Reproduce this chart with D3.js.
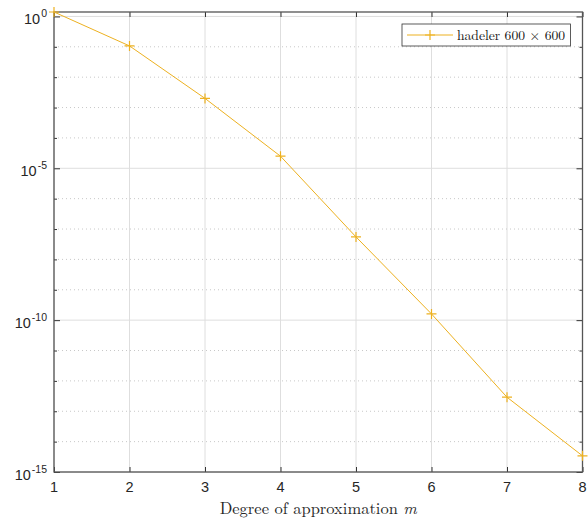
<!DOCTYPE html>
<html><head><meta charset="utf-8">
<script src="https://cdn.jsdelivr.net/npm/d3@7"></script>
<style>body{margin:0;background:#fff}svg{display:block}</style>
</head><body>
<script>
const degrees = [1, 2, 3, 4, 5, 6, 7, 8];
const errors = [1.4, 0.107, 2.0e-3, 2.5e-5, 5.5e-8, 1.6e-10, 2.9e-13, 3.4e-15];
const xTicks = [1, 2, 3, 4, 5, 6, 7, 8];
const yMajorExp = [0, -5, -10, -15];
const yMinorExp = [-1,-2,-3,-4,-6,-7,-8,-9,-11,-12,-13,-14];
const seriesName = "hadeler 600 \u00d7 600";

const W = 588, H = 518;
const L = 54, R = 582.5, T = 12, B = 472;
const svg = d3.select("body").append("svg").attr("width", W).attr("height", H);
const x = d3.scaleLinear().domain([1, 8]).range([L, R]);
const y = d3.scaleLog().domain([1e-15, 1.4]).range([B, T]);
const col = "#EDB120";
const serif = "Latin Modern Roman, Liberation Serif, Times New Roman, serif";
const tf = "Liberation Sans, Arial, sans-serif";

// grid
const g = svg.append("g");
g.selectAll(".vg").data(xTicks).enter().append("line")
  .attr("x1", d => x(d)).attr("x2", d => x(d)).attr("y1", T).attr("y2", B)
  .attr("stroke", "#dedede").attr("stroke-width", 1);
g.selectAll(".hg").data(yMajorExp).enter().append("line")
  .attr("x1", L).attr("x2", R).attr("y1", d => y(Math.pow(10, d))).attr("y2", d => y(Math.pow(10, d)))
  .attr("stroke", "#dedede").attr("stroke-width", 1);
g.selectAll(".mg").data(yMinorExp).enter().append("line")
  .attr("x1", L).attr("x2", R).attr("y1", d => y(Math.pow(10, d))).attr("y2", d => y(Math.pow(10, d)))
  .attr("stroke", "#c8c8c8").attr("stroke-width", 1).attr("stroke-dasharray", "1,3");

// axes with inward ticks
const majV = yMajorExp.map(e => Math.pow(10, e));
const minV = yMinorExp.map(e => Math.pow(10, e));
svg.append("g").attr("transform", `translate(0,${B})`).call(d3.axisBottom(x).tickValues(xTicks).tickSizeInner(-5).tickSizeOuter(0).tickFormat(""));
svg.append("g").attr("transform", `translate(0,${T})`).call(d3.axisTop(x).tickValues(xTicks).tickSizeInner(-5).tickSizeOuter(0).tickFormat(""));
svg.append("g").attr("transform", `translate(${L},0)`).call(d3.axisLeft(y).tickValues(majV).tickSizeInner(-6).tickSizeOuter(0).tickFormat(""));
svg.append("g").attr("transform", `translate(${L},0)`).call(d3.axisLeft(y).tickValues(minV).tickSizeInner(-3).tickSizeOuter(0).tickFormat(""));
svg.append("g").attr("transform", `translate(${R},0)`).call(d3.axisRight(y).tickValues(majV).tickSizeInner(-6).tickSizeOuter(0).tickFormat(""));
svg.append("g").attr("transform", `translate(${R},0)`).call(d3.axisRight(y).tickValues(minV).tickSizeInner(-3).tickSizeOuter(0).tickFormat(""));
svg.selectAll(".domain").remove();
svg.selectAll(".tick line").attr("stroke", "#333").attr("stroke-width", 1);
svg.append("rect").attr("x", L).attr("y", T).attr("width", R - L).attr("height", B - T)
  .attr("fill", "none").attr("stroke", "#555").attr("stroke-width", 1.3);

// tick labels
svg.selectAll(".xl").data(xTicks).enter().append("text")
  .attr("x", d => x(d)).attr("y", 492).attr("text-anchor", "middle")
  .attr("font-family", tf).attr("font-size", 14.5).attr("fill", "#262626").text(d => d);
yMajorExp.forEach(e => {
  const yy = y(Math.pow(10, e));
  const t = svg.append("text").attr("x", 47).attr("y", yy + 8).attr("text-anchor", "end")
    .attr("font-family", tf).attr("font-size", 14.5).attr("fill", "#262626");
  t.append("tspan").text("10");
  t.append("tspan").attr("dy", -7).attr("font-size", 10.5).attr("dx", 1).text(e);
});

// xlabel
const xlab = svg.append("text").attr("x", (L + R) / 2).attr("y", 514).attr("text-anchor", "middle")
  .attr("font-family", serif).attr("font-size", 16.5).attr("fill", "#262626");
xlab.append("tspan").text("Degree of approximation ");
xlab.append("tspan").attr("font-style", "italic").text("m");

// line + markers
const line = d3.line().x((d, i) => x(degrees[i])).y(d => y(d));
svg.append("path").datum(errors).attr("d", line).attr("fill", "none").attr("stroke", col).attr("stroke-width", 1);
const ms = 5;
svg.selectAll(".mk").data(errors).enter().append("path")
  .attr("d", (d, i) => { const cx = x(degrees[i]), cy = y(d); return `M${cx - ms},${cy}H${cx + ms}M${cx},${cy - ms}V${cy + ms}`; })
  .attr("stroke", col).attr("stroke-width", 1.2).attr("fill", "none");

// legend
const lg = svg.append("g");
lg.append("rect").attr("x", 402).attr("y", 24).attr("width", 168.5).attr("height", 22)
  .attr("fill", "#fff").attr("stroke", "#333").attr("stroke-width", 0.8);
lg.append("line").attr("x1", 407).attr("x2", 453).attr("y1", 35).attr("y2", 35).attr("stroke", col).attr("stroke-width", 1);
lg.append("path").attr("d", `M${430 - ms},35H${430 + ms}M430,${35 - ms}V${35 + ms}`).attr("stroke", col).attr("stroke-width", 1.2);
lg.append("text").attr("x", 457).attr("y", 39.5).attr("font-family", serif)
  .attr("font-size", 13.6).attr("fill", "#111").text(seriesName);
</script>
</body></html>
